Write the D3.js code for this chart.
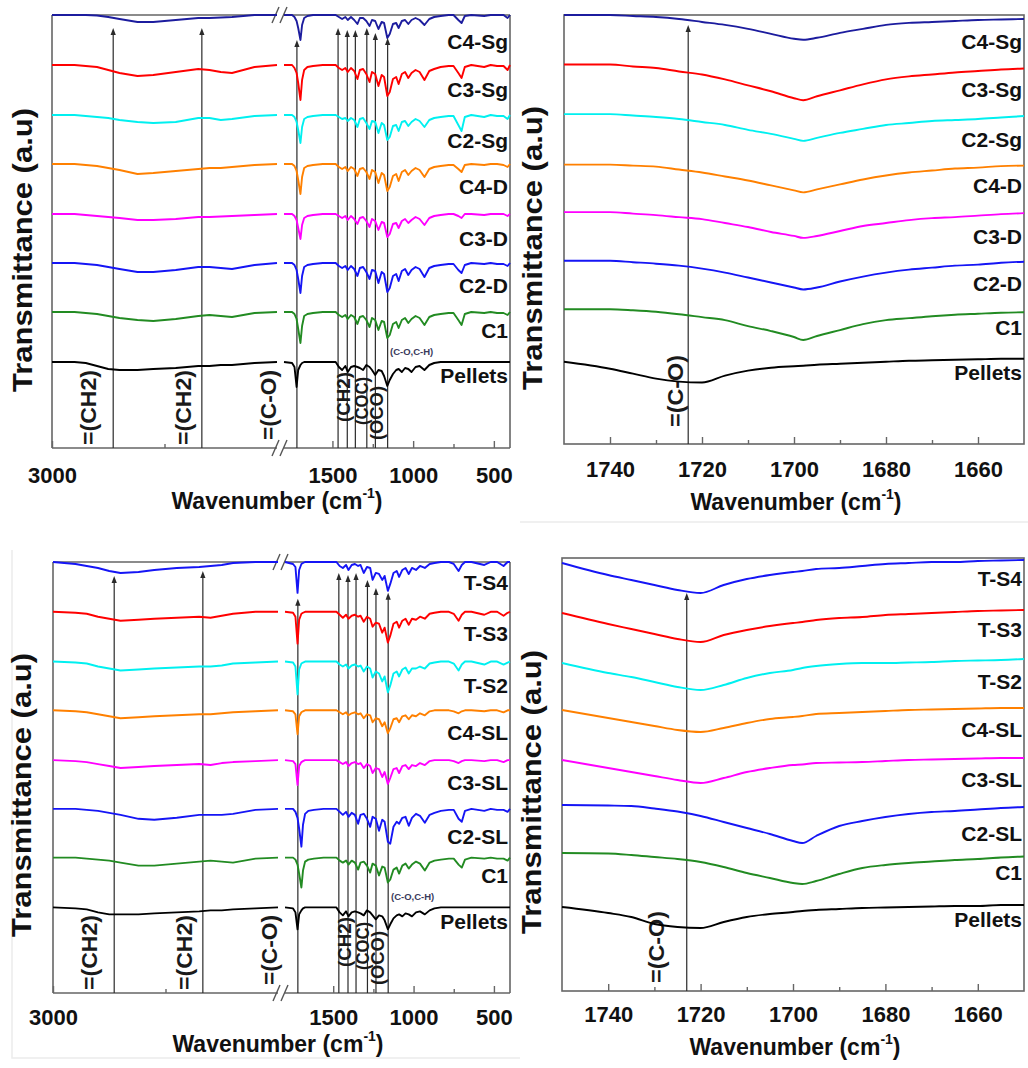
<!DOCTYPE html>
<html>
<head>
<meta charset="utf-8">
<script src="https://cdn.jsdelivr.net/npm/d3@7"></script>
<style>
  body { margin: 0; background: #fff; }
  svg { display: block; font-family: "Liberation Sans", Arial, sans-serif; font-weight: bold; }
</style>
</head>
<body>
<svg id="chart" width="1028" height="1068"></svg>
<script>
// ---- data ----
// stacking offsets (a.u.), bottom trace first
const offsets = [86, 136, 185, 234, 284, 333, 383, 433];

// wavenumber grids
const wnA = [3000, 2900, 2850, 2800, 2750, 2700, 2620, 2550, 2450, 2350, 2300, 2250, 2200, 2100, 2000];
const wnB = [1800, 1750, 1735, 1722, 1712, 1698, 1688, 1675, 1655, 1620, 1560, 1480,
  1460, 1440, 1420, 1405, 1385, 1365, 1345, 1330, 1310, 1290, 1270, 1255, 1235, 1215, 1195, 1180,
  1160, 1145, 1125, 1105, 1090, 1070, 1050, 1030, 1010, 985, 960, 930, 900, 870, 830, 780, 750,
  720, 700, 680, 640, 560, 520, 480, 440, 415, 400];
const wnZ = [1750, 1740, 1735, 1730, 1725, 1720, 1715, 1710, 1705, 1700, 1698, 1695, 1690, 1685,
  1680, 1675, 1670, 1665, 1660, 1655, 1650];

// top row series
const topNames = ["Pellets", "C1", "C2-D", "C3-D", "C4-D", "C2-Sg", "C3-Sg", "C4-Sg"];
const topColors = ["#000000", "#228b22", "#1515f5", "#ff00ff", "#ff8000", "#00f0f0", "#ff0000", "#1c1c9e"];

const topA = [
  [0, 0, -1, -4, -7, -8, -8, -7, -6, -4, -4, -3, -3, -1, 0],
  [0, 0, -1, -2, -4, -6, -8, -9, -7, -4, -3, -4, -5, -1, 0],
  [0, 0, -1, -2, -4, -6, -9, -9, -7, -4, -4, -5, -6, -2, 0],
  [0, 0, -1, -2, -3, -4, -6, -6, -5, -3, -3, -2.5, -2, -1, 0],
  [0, 0, -1, -2, -4, -6, -10, -9, -7, -5, -4, -4, -3, -1, 0],
  [0, 0, -1, -2, -3, -5, -7, -8, -7, -3, -3, -5, -4, -1, 0],
  [0, 0, -1, -2, -5, -8, -11, -10, -7, -4, -5, -7, -8, -2, 0],
  [0, 0, 0, -0.5, -2, -4, -7, -7, -5, -3, -3, -2.5, -2, 0, 0]
];

const topB = [
  [0, -1, -5, -25, -8, -3, -1, 0, 0, 0, 0, 0, -5, -8, -4, -10, -5, -4, -5, -6, -8, -3, -5, -8, -13, -8, -9, -14, -24, -18, -12, -8, -7, -10, -6, -7, -10, -5, -4, -8, -3, -1, 0, 0, 0, 0, 0, 0, 0, 0, 0, 0, 0, 0, 0],
  [0, 0, -2, -7, -17, -31, -14, -4, -2, -1, 0, 0, -3, -5, -3, -7, -3, -5, -12, -5, -4, -8, -15, -6, -8, -18, -9, -10, -26, -23, -12, -10, -16, -8, -6, -11, -7, -4, -6, -13, -5, -3, -2, -1, -1, -8, -13, -2, 0, -1, 0, -1, -1, -3, 0],
  [0, 0, -2, -7, -16, -30, -13, -4, -2, -1, 0, 0, -3, -5, -3, -7, -3, -6, -13, -5, -4, -9, -16, -7, -8, -20, -9, -11, -29, -25, -13, -11, -18, -8, -6, -12, -7, -4, -6, -14, -5, -3, -2, -1, -1, -7, -10, -2, 0, -1, 0, -1, -1, -3, 0],
  [0, 0, -2, -6, -14, -25, -11, -4, -2, -1, 0, 0, -2, -4, -2, -6, -2, -5, -10, -4, -3, -7, -13, -5, -7, -16, -8, -9, -23, -20, -10, -9, -14, -7, -5, -9, -6, -3, -5, -11, -4, -2, -1, 0, 0, -2, -4, 0, 0, -1, 0, 0, 0, -2, 0],
  [0, 0, -2, -7, -16, -30, -13, -4, -2, -1, 0, 0, -3, -5, -3, -7, -3, -5, -12, -5, -4, -8, -15, -6, -8, -19, -9, -11, -27, -23, -12, -10, -17, -8, -6, -11, -7, -4, -6, -13, -5, -3, -2, -1, -1, -5, -8, -1, 0, -1, 0, 0, -1, -3, 0],
  [0, 0, -2, -7, -15, -28, -12, -4, -2, -1, 0, 0, -2, -4, -3, -6, -3, -5, -12, -4, -3, -8, -14, -6, -7, -18, -8, -10, -25, -22, -11, -10, -16, -7, -6, -11, -7, -4, -6, -12, -5, -3, -2, -1, -1, -10, -16, -2, 0, -2, 0, -1, -1, -4, 0],
  [0, 0, -3, -8, -18, -35, -15, -5, -2, -1, 0, 0, -3, -5, -3, -7, -3, -6, -14, -5, -4, -9, -17, -7, -9, -21, -10, -12, -31, -27, -14, -12, -19, -9, -7, -13, -8, -5, -7, -15, -6, -4, -2, -1, -1, -8, -13, -2, 0, -2, 0, -1, -1, -5, 0],
  [0, 0, -2, -6, -13, -25, -10, -3, -1, 0, 0, 0, -2, -4, -2, -5, -2, -5, -9, -3, -3, -6, -11, -5, -6, -14, -7, -8, -23, -19, -9, -8, -13, -6, -5, -9, -5, -3, -5, -10, -4, -2, -1, 0, 0, -5, -8, -1, 0, -1, 0, 0, 0, -3, 0]
];

const topZ = [
  [-3, -10, -15, -20, -23, -24, -17, -12, -9, -7.5, -7, -6, -5, -4, -3, -2, -1.5, -1, -0.5, 0, 0],
  [0, 0, -1, -2.5, -5, -8, -11, -17, -22, -28, -31, -27, -21, -15, -11, -9, -7, -5.5, -4.5, -3.5, -3],
  [0, 0, -1.5, -3, -5, -8, -12, -17, -22, -27, -29, -27, -21, -16, -12, -9, -7, -5, -4, -2, -1],
  [0, 0, -1.5, -3, -5, -7, -11, -15, -20, -24, -26, -24, -19, -14, -11, -8, -6, -5, -3.5, -2, -1],
  [-2, -2, -3, -4, -7, -10, -14, -18, -23, -28, -30, -27, -22, -17, -13, -10, -8, -6, -5, -3.5, -3],
  [0, 0, -1.5, -3, -5, -8, -11, -16, -20, -25, -27, -24, -19, -15, -11, -9, -7, -6, -5, -3.5, -2],
  [0, 0, -2, -3.5, -7, -10, -15, -21, -27, -34, -36, -32, -26, -20, -15, -12, -10, -8, -6.5, -5, -4],
  [0, 0, -1, -2, -4, -7, -10, -14, -19, -24, -25, -23, -18, -14, -10, -8, -7, -6, -5, -4.5, -4]
];

// bottom row series
const botNames = ["Pellets", "C1", "C2-SL", "C3-SL", "C4-SL", "T-S2", "T-S3", "T-S4"];
const botColors = ["#000000", "#228b22", "#1515f5", "#ff00ff", "#ff8000", "#00f0f0", "#ff0000", "#1515f5"];

const botA = [
  [0, -1, -2, -5, -7, -7, -7, -6, -5, -4, -3, -3, -2, -1, 0],
  [0, 0, -1, -2, -3, -5, -8, -8, -6, -4, -3, -4, -5, -1, 0],
  [0, 0, -1, -2, -4, -6, -10, -11, -9, -6, -6, -6, -5, -1, 0],
  [0, -1, -2, -4, -6, -8, -7, -6, -5, -4, -5, -3, -2, -1, 0],
  [0, -1, -2, -4, -6, -8, -7, -6, -5, -4, -4, -3, -2, -1, 0],
  [0, -1, -2, -5, -7, -9, -8, -7, -6, -5, -5, -4, -2, -1, 0],
  [0, -1, -2, -5, -7, -9, -8, -7, -6, -5, -6, -4, -2, 0, 0],
  [0, -2, -4, -6, -9, -11, -10, -8, -6, -5, -4, -3, -1, 0, 0]
];

const botB = [
  [0, -1, -5, -22, -7, -3, -1, 0, 0, 0, 0, 0, -5, -8, -4, -9, -5, -4, -5, -6, -8, -3, -5, -8, -12, -8, -9, -13, -22, -17, -11, -8, -7, -9, -6, -7, -9, -5, -4, -7, -3, -1, 0, 0, 0, 0, 0, 0, 0, 0, 0, 0, 0, 0, 0],
  [0, 0, -2, -7, -16, -30, -13, -4, -2, -1, 0, 0, -3, -5, -3, -7, -3, -5, -12, -5, -4, -8, -15, -6, -8, -18, -9, -10, -25, -22, -12, -10, -16, -8, -6, -11, -7, -4, -6, -13, -5, -3, -2, -1, -1, -7, -10, -2, 0, -1, 0, -1, -1, -3, 0],
  [0, 0, -3, -9, -20, -38, -16, -5, -2, -1, 0, 0, -3, -6, -3, -8, -4, -6, -15, -6, -5, -10, -18, -8, -10, -22, -11, -13, -33, -35, -18, -13, -15, -9, -8, -17, -9, -5, -7, -14, -6, -4, -2, -1, -1, -10, -13, -2, 0, -2, 0, -1, -1, -3, 0],
  [0, -1, -4, -25, -6, -2, -1, 0, 0, 0, 0, 0, -2, -4, -2, -6, -3, -2, -4, -3, -8, -4, -6, -13, -8, -9, -17, -12, -24, -18, -9, -8, -13, -6, -5, -9, -5, -6, -3, -5, -1, 0, 0, 0, -1, -3, -1, 0, 0, -1, 0, 0, -2, 0, 0],
  [0, -1, -4, -24, -6, -2, -1, 0, 0, 0, 0, 0, -2, -4, -2, -5, -3, -2, -4, -3, -8, -4, -5, -12, -8, -9, -16, -12, -23, -18, -9, -8, -12, -6, -5, -9, -5, -6, -3, -5, -1, 0, 0, 0, -1, -3, -1, 0, 0, -1, 0, 0, -2, 0, 0],
  [0, -1, -5, -33, -8, -2, -1, 0, 0, 0, 0, 0, -3, -5, -3, -7, -4, -3, -5, -4, -10, -5, -7, -16, -10, -12, -20, -15, -31, -24, -12, -10, -15, -8, -6, -12, -7, -7, -5, -7, -2, -1, 0, 0, -2, -9, -3, 0, 0, -3, 0, 0, -3, -1, 0],
  [0, -1, -5, -32, -8, -2, -1, 0, 0, 0, 0, 0, -3, -6, -3, -7, -4, -3, -5, -4, -10, -5, -7, -15, -11, -12, -21, -16, -31, -24, -12, -10, -16, -9, -7, -13, -7, -8, -5, -7, -2, -1, 0, 0, -2, -9, -3, 0, 0, -3, 0, 0, -4, -1, 0],
  [0, -2, -5, -31, -8, -2, -1, 0, 0, 0, 0, 0, -4, -6, -3, -8, -3, -2, -4, -3, -11, -5, -6, -18, -11, -12, -18, -14, -29, -22, -11, -9, -15, -8, -6, -12, -6, -8, -4, -6, -2, -1, 0, 0, -2, -9, -3, 0, 0, -3, 0, 0, -4, 0, 0]
];

const botZ = [
  [-2, -8, -12, -19, -22, -23, -17, -12, -9, -7, -6, -5, -4, -3, -2.5, -2, -1.5, -1, -1, 0, 0],
  [2, 1.5, 0, -2, -4, -7, -12, -18, -23, -28, -29, -26, -19, -13, -10, -8, -6.5, -5, -4, -2.5, -1.5],
  [1, 0.5, 0, -2.5, -5.5, -10, -16, -22, -28, -35, -37, -30, -20, -15, -11, -8, -6, -5, -3.5, -2, -1],
  [-3, -11, -15, -19, -23, -26, -21, -15, -11, -8, -7.5, -6, -5.5, -5, -4, -3, -2.5, -2, -1.5, -1, -1],
  [-3, -11, -15, -19, -23, -25, -21, -16, -12, -10, -9, -7, -6, -5, -4, -3, -2.5, -2, -1.5, -1, -1],
  [-5, -15, -19, -24, -29, -32, -27, -20, -15, -12, -10, -8, -6, -5, -5, -4.5, -4, -3, -2.5, -2, -1],
  [-5, -16, -21, -26, -31, -34, -27, -22, -18, -15, -14, -12, -10, -9, -7, -6, -5, -4, -3, -2.5, -2],
  [-5, -17, -22, -27, -32, -35, -27, -21, -17, -14, -13, -11, -10, -8, -6, -5, -4, -4, -3, -2.5, -2]
];

// assigned band positions (cm-1) and arrow tips (a.u.)
const peakWn = [2728, 2334, 1720, 1465, 1408, 1358, 1287, 1234, 1158];
const peakTipTop = [420, 420, 408, 420, 418, 418, 420, 415, 410];
const peakTipBot = [419, 424, 396, 422, 420, 422, 415, 407, 402];
const zoomPeakWn = 1723;
const zoomTipTop = 423;
const zoomTipBot = 398;

// tick values
const ticksA = [3000];
const minorA = [2500];
const ticksB = [1500, 1000, 500];
const minorB = [1250, 750];
const ticksZ = [1740, 1720, 1700, 1680, 1660];
const minorZ = [1730, 1710, 1690, 1670];

// ---- drawing ----
const svg = d3.select("#chart");
const FRAME = "#666";
const MARK = "#2a2a2a";
const fmt = d3.format("d");
const dropTop = [21, 26, 30, 32, 30, 33, 32, 34];
const dropBot = [22, 25, 35, 30, 30, 31, 29, 28];

// faint outer borders of the original figure tiles
svg.append("path")
  .attr("d", "M520,522H1028 M12,550V1058H520")
  .attr("stroke", "#ececec").attr("fill", "none").attr("stroke-width", 1.5);

function styleAxis(sel, labelY) {
  sel.select(".domain").remove();
  sel.attr("font-family", null).attr("font-size", null);
  sel.selectAll(".tick line").attr("stroke", FRAME).attr("stroke-width", 1.4);
  sel.selectAll(".tick text")
    .attr("y", labelY).attr("dy", 0)
    .attr("fill", "#111")
    .style("font-size", "22px").style("font-weight", "bold");
}

function drawTitles(g, xc, yBase, ytX, ytY) {
  const t = g.append("text")
    .attr("x", xc).attr("y", yBase)
    .attr("text-anchor", "middle")
    .style("font-size", "23px").attr("fill", "#111");
  t.append("tspan").text("Wavenumber (cm");
  t.append("tspan").attr("dy", -11).style("font-size", "14px").text("-1");
  t.append("tspan").attr("dy", 11).text(")");

  g.append("text")
    .attr("transform", `translate(${ytX},${ytY}) rotate(-90)`)
    .attr("text-anchor", "middle")
    .attr("dominant-baseline", "central")
    .attr("textLength", 284).attr("lengthAdjust", "spacingAndGlyphs")
    .style("font-size", "27px").attr("fill", "#111")
    .text("Transmittance (a.u)");
}

function rotLabel(g, text, cx, bottom, size, len) {
  const t = g.append("text")
    .attr("transform", `translate(${cx},${bottom}) rotate(-90)`)
    .attr("dominant-baseline", "central")
    .style("font-size", size + "px").attr("fill", "#1a1a1a")
    .text(text);
  if (len) t.attr("textLength", len).attr("lengthAdjust", "spacingAndGlyphs");
}

function arrowHead(g, x, ytip) {
  g.append("path")
    .attr("d", `M${x},${ytip} L${x - 2.6},${ytip + 7} L${x + 2.6},${ytip + 7} Z`)
    .attr("fill", MARK);
}

function drawFullPanel(cfg) {
  const g = svg.append("g");
  const y = d3.scaleLinear().domain([0, 433]).range([cfg.y1, cfg.y0]);
  const bx0 = cfg.x0 + 225, bx1 = cfg.x0 + 232;
  const xA = d3.scaleLinear().domain([3000, 2000]).range([cfg.x0, bx0]);
  const xB = d3.scaleLinear().domain([1800, 400]).range([bx1, cfg.x1]);

  // frame with axis break
  g.append("path")
    .attr("d", `M${cfg.x0},${cfg.y0}V${cfg.y1} M${cfg.x1},${cfg.y0}V${cfg.y1}
      M${cfg.x0},${cfg.y0}H${bx0} M${bx1},${cfg.y0}H${cfg.x1}
      M${cfg.x0},${cfg.y1}H${bx0} M${bx1},${cfg.y1}H${cfg.x1}`)
    .attr("stroke", FRAME).attr("stroke-width", 1.6).attr("fill", "none");
  [cfg.y0, cfg.y1].forEach(yy => {
    [0, 8].forEach(k => {
      g.append("line")
        .attr("x1", bx0 - 5 + k).attr("y1", yy + 8)
        .attr("x2", bx0 + 2 + k).attr("y2", yy - 8)
        .attr("stroke", "#555").attr("stroke-width", 1.4);
    });
  });

  // axes
  const ax = g.append("g").attr("transform", `translate(0,${cfg.y1})`);
  ax.append("g").call(d3.axisBottom(xA).tickValues(ticksA).tickFormat(fmt).tickSizeInner(-7).tickSizeOuter(0)).call(styleAxis, cfg.tickY);
  ax.append("g").call(d3.axisBottom(xA).tickValues(minorA).tickSizeInner(-4).tickSizeOuter(0).tickFormat("")).call(styleAxis, cfg.tickY);
  ax.append("g").call(d3.axisBottom(xB).tickValues(ticksB).tickFormat(fmt).tickSizeInner(-7).tickSizeOuter(0)).call(styleAxis, cfg.tickY);
  ax.append("g").call(d3.axisBottom(xB).tickValues(minorB).tickSizeInner(-4).tickSizeOuter(0).tickFormat("")).call(styleAxis, cfg.tickY);

  drawTitles(g, cfg.x0 + 225, cfg.titleY, cfg.ytX, cfg.ytY);

  // band marker lines
  const px = peakWn.map(w => (w > 1900 ? xA(w) : xB(w)));
  px.forEach((x, k) => {
    g.append("line")
      .attr("x1", x).attr("x2", x)
      .attr("y1", cfg.y1).attr("y2", y(cfg.tips[k]) + 5)
      .attr("stroke", MARK).attr("stroke-width", 1.2);
  });

  // band labels
  rotLabel(g, "=(CH2)", cfg.x0 + 36, cfg.y1 - 3, 22, 75);
  rotLabel(g, "=(CH2)", cfg.x0 + 131, cfg.y1 - 3, 22, 75);
  rotLabel(g, "=(C-O)", cfg.x0 + 216, cfg.y1 - 8, 22, 70);
  rotLabel(g, "(CH2)", cfg.x0 + 292, cfg.y1 - 26, 18, 50);
  rotLabel(g, "(COC)", cfg.x0 + 310, cfg.y1 - 23, 18, 48);
  rotLabel(g, "(OCO)", cfg.x0 + 325, cfg.y1 - 8, 18, 54);
  g.append("text")
    .attr("x", cfg.x0 + 338).attr("y", cfg.y1 - 93)
    .style("font-size", "9.5px").attr("fill", "#3b3b5c")
    .text("(C-O,C-H)");

  // spectra
  const line = d3.line();
  cfg.names.forEach((name, i) => {
    const ptsA = wnA.map((w, j) => [xA(w), y(offsets[i] + cfg.A[i][j])]);
    const ptsB = wnB.map((w, j) => [xB(w), y(offsets[i] + cfg.B[i][j])]);
    [ptsA, ptsB].forEach(pts => {
      g.append("path")
        .attr("d", line(pts))
        .attr("fill", "none")
        .attr("stroke", cfg.colors[i])
        .attr("stroke-width", 1.9)
        .attr("stroke-linejoin", "round");
    });
  });

  px.forEach((x, k) => arrowHead(g, x, y(cfg.tips[k])));

  // series labels
  cfg.names.forEach((name, i) => {
    g.append("text")
      .attr("x", cfg.x1 - 2).attr("y", y(offsets[i]) + cfg.drop[i])
      .attr("text-anchor", "end")
      .style("font-size", "21px").attr("fill", "#111")
      .text(name);
  });
}

function drawZoomPanel(cfg) {
  const g = svg.append("g");
  const y = d3.scaleLinear().domain([0, 433]).range([cfg.y1, cfg.y0]);
  const x = d3.scaleLinear().domain([1750, 1650]).range([cfg.x0, cfg.x1]);

  g.append("rect")
    .attr("x", cfg.x0).attr("y", cfg.y0)
    .attr("width", cfg.x1 - cfg.x0).attr("height", cfg.y1 - cfg.y0)
    .attr("fill", "none").attr("stroke", FRAME).attr("stroke-width", 1.6);

  const ax = g.append("g").attr("transform", `translate(0,${cfg.y1})`);
  ax.append("g").call(d3.axisBottom(x).tickValues(ticksZ).tickFormat(fmt).tickSizeInner(-7).tickSizeOuter(0)).call(styleAxis, cfg.tickY);
  ax.append("g").call(d3.axisBottom(x).tickValues(minorZ).tickSizeInner(-4).tickSizeOuter(0).tickFormat("")).call(styleAxis, cfg.tickY);

  drawTitles(g, (cfg.x0 + cfg.x1) / 2 + 2, cfg.titleY, cfg.ytX, cfg.ytY);

  const xp = x(zoomPeakWn);
  g.append("line")
    .attr("x1", xp).attr("x2", xp)
    .attr("y1", cfg.y1).attr("y2", y(cfg.tip) + 5)
    .attr("stroke", MARK).attr("stroke-width", 1.2);
  rotLabel(g, "=(C-O)", cfg.labX, cfg.labBottom, 22, 72);

  const line = d3.line().curve(d3.curveMonotoneX);
  cfg.names.forEach((name, i) => {
    const pts = wnZ.map((w, j) => [x(w), y(offsets[i] + cfg.Z[i][j])]);
    g.append("path")
      .attr("d", line(pts))
      .attr("fill", "none")
      .attr("stroke", cfg.colors[i])
      .attr("stroke-width", 1.9);
  });
  arrowHead(g, xp, y(cfg.tip));

  cfg.names.forEach((name, i) => {
    g.append("text")
      .attr("x", cfg.x1 - 2).attr("y", y(offsets[i]) + cfg.drop[i])
      .attr("text-anchor", "end")
      .style("font-size", "21px").attr("fill", "#111")
      .text(name);
  });
}

drawFullPanel({
  x0: 52, x1: 510, y0: 15, y1: 448,
  names: topNames, colors: topColors, A: topA, B: topB,
  tips: peakTipTop, drop: dropTop,
  tickY: 35, titleY: 509, ytX: 23, ytY: 250
});
drawFullPanel({
  x0: 53, x1: 510, y0: 562, y1: 993,
  names: botNames, colors: botColors, A: botA, B: botB,
  tips: peakTipBot, drop: dropBot,
  tickY: 32, titleY: 1052, ytX: 22, ytY: 795
});
drawZoomPanel({
  x0: 564, x1: 1024, y0: 15, y1: 444,
  names: topNames, colors: topColors, Z: topZ,
  tip: zoomTipTop, drop: dropTop,
  labX: 675, labBottom: 427,
  tickY: 33, titleY: 510, ytX: 533, ytY: 248
});
drawZoomPanel({
  x0: 562, x1: 1024, y0: 558, y1: 991,
  names: botNames, colors: botColors, Z: botZ,
  tip: zoomTipBot, drop: dropBot,
  labX: 656, labBottom: 983,
  tickY: 31, titleY: 1055, ytX: 532, ytY: 792
});
</script>
</body>
</html>
